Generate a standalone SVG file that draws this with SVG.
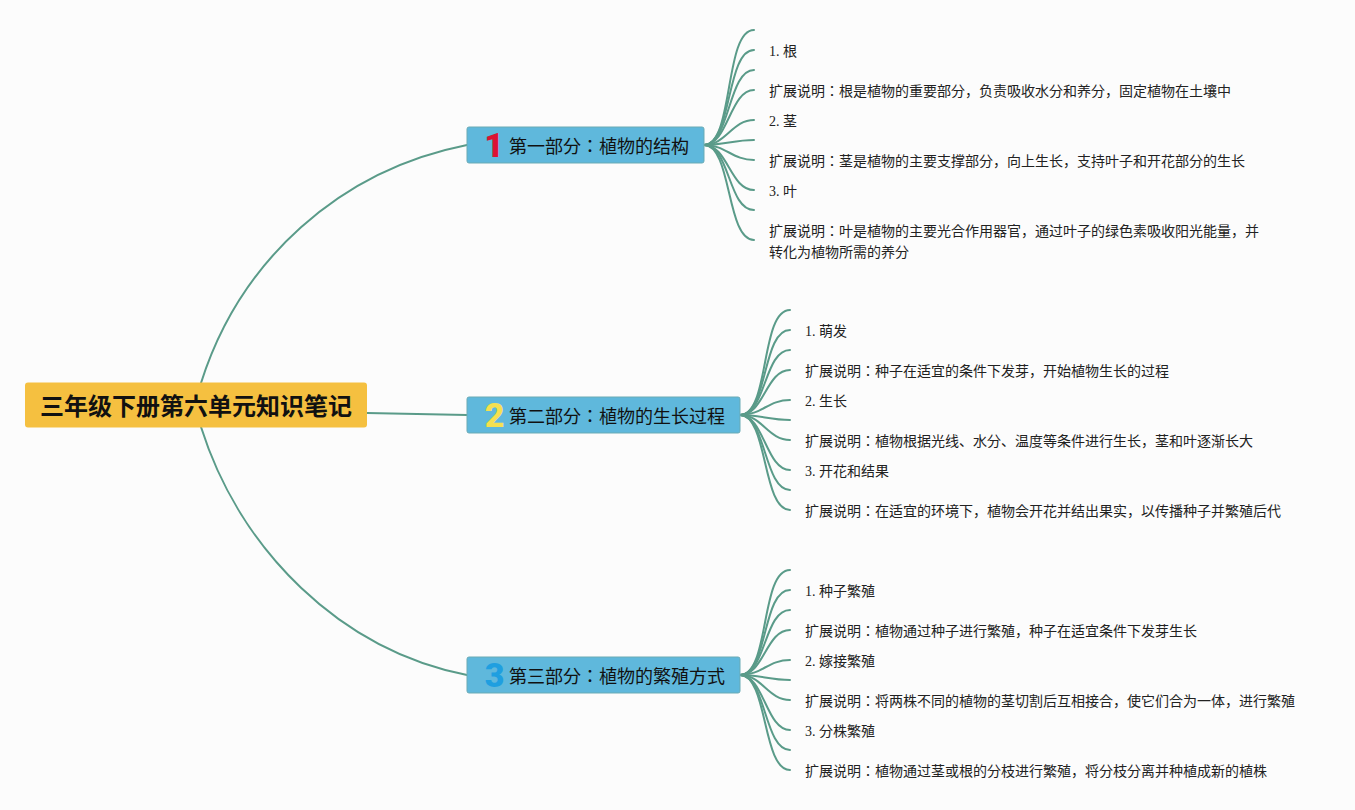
<svg xmlns="http://www.w3.org/2000/svg" width="1355" height="810" viewBox="0 0 1355 810">
<style>
.c{fill:none;stroke:#5a9b89;stroke-width:2;stroke-linecap:round}
.b{fill:#5fb8dc;stroke:#6aabb5;stroke-width:1}
.t{font-family:"Noto Sans CJK JP","Noto Sans CJK SC",sans-serif;font-size:18px;fill:#111}
.l{font-family:"Liberation Serif","Noto Sans CJK JP","Noto Sans CJK SC",serif;font-size:14px;fill:#222}
.n{font-family:"Roboto",sans-serif;font-size:34px;font-weight:900}
</style>
<rect width="1355" height="810" fill="#fcfcfc"/>
<g id="connectors">
<path class="c" d="M201,383C240,260 340,170 467,145"/>
<path class="c" d="M367,413L467,415"/>
<path class="c" d="M201,427C240,550 340,650 467,675"/>
<path class="c" d="M704,145C734,145 724,30 754,30"/>
<path class="c" d="M704,145C732,145 726,50 754,50"/>
<path class="c" d="M704,145C730,145 728,70 754,70"/>
<path class="c" d="M704,145C728,145 730,90 754,90"/>
<path class="c" d="M704,145C726,145 732,120 754,120"/>
<path class="c" d="M704,145C724,145 734,140 754,140"/>
<path class="c" d="M704,145C726,145 732,160 754,160"/>
<path class="c" d="M704,145C728,145 730,190 754,190"/>
<path class="c" d="M704,145C730,145 728,210 754,210"/>
<path class="c" d="M704,145C732,145 726,240 754,240"/>
<path class="c" d="M740,415C770,415 760,310 790,310"/>
<path class="c" d="M740,415C768,415 762,330 790,330"/>
<path class="c" d="M740,415C766,415 764,350 790,350"/>
<path class="c" d="M740,415C764,415 766,370 790,370"/>
<path class="c" d="M740,415C762,415 768,400 790,400"/>
<path class="c" d="M740,415C760,415 770,420 790,420"/>
<path class="c" d="M740,415C762,415 768,440 790,440"/>
<path class="c" d="M740,415C764,415 766,470 790,470"/>
<path class="c" d="M740,415C766,415 764,490 790,490"/>
<path class="c" d="M740,415C768,415 762,510 790,510"/>
<path class="c" d="M740,675C770,675 760,570 790,570"/>
<path class="c" d="M740,675C768,675 762,590 790,590"/>
<path class="c" d="M740,675C766,675 764,610 790,610"/>
<path class="c" d="M740,675C764,675 766,630 790,630"/>
<path class="c" d="M740,675C762,675 768,660 790,660"/>
<path class="c" d="M740,675C760,675 770,680 790,680"/>
<path class="c" d="M740,675C762,675 768,700 790,700"/>
<path class="c" d="M740,675C764,675 766,730 790,730"/>
<path class="c" d="M740,675C766,675 764,750 790,750"/>
<path class="c" d="M740,675C768,675 762,770 790,770"/>
</g>
<g id="root">
<rect x="25" y="382.500" width="342" height="45" rx="3" fill="#f5c040"/>
<text x="196" y="415" text-anchor="middle" font-family="'Noto Sans CJK JP','Noto Sans CJK SC',sans-serif" font-size="24" font-weight="700" fill="#111">三年级下册第六单元知识笔记</text>
</g>
<g id="branch1">
<rect class="b" x="467" y="127" width="237" height="36" rx="2"/>
<text class="n" x="494" y="157" text-anchor="middle" fill="#dc1233">1</text>
<text class="t" x="509" y="152.500">第一部分：植物的结构</text>
</g>
<g id="branch2">
<rect class="b" x="467" y="397" width="273" height="36" rx="2"/>
<text class="n" x="494.500" y="427" text-anchor="middle" fill="#f5e050">2</text>
<text class="t" x="509" y="422.500">第二部分：植物的生长过程</text>
</g>
<g id="branch3">
<rect class="b" x="467" y="657" width="273" height="36" rx="2"/>
<text class="n" x="494.500" y="687" text-anchor="middle" fill="#1f9fe0">3</text>
<text class="t" x="509" y="682.500">第三部分：植物的繁殖方式</text>
</g>
<g id="leaves1">
<text class="l" x="769" y="56">1. 根</text>
<text class="l" x="769" y="96">扩展说明：根是植物的重要部分，负责吸收水分和养分，固定植物在土壤中</text>
<text class="l" x="769" y="126">2. 茎</text>
<text class="l" x="769" y="166">扩展说明：茎是植物的主要支撑部分，向上生长，支持叶子和开花部分的生长</text>
<text class="l" x="769" y="196">3. 叶</text>
<text class="l" x="769" y="236">扩展说明：叶是植物的主要光合作用器官，通过叶子的绿色素吸收阳光能量，并</text>
<text class="l" x="769" y="257">转化为植物所需的养分</text>
</g>
<g id="leaves2">
<text class="l" x="805" y="336">1. 萌发</text>
<text class="l" x="805" y="376">扩展说明：种子在适宜的条件下发芽，开始植物生长的过程</text>
<text class="l" x="805" y="406">2. 生长</text>
<text class="l" x="805" y="446">扩展说明：植物根据光线、水分、温度等条件进行生长，茎和叶逐渐长大</text>
<text class="l" x="805" y="476">3. 开花和结果</text>
<text class="l" x="805" y="516">扩展说明：在适宜的环境下，植物会开花并结出果实，以传播种子并繁殖后代</text>
</g>
<g id="leaves3">
<text class="l" x="805" y="596">1. 种子繁殖</text>
<text class="l" x="805" y="636">扩展说明：植物通过种子进行繁殖，种子在适宜条件下发芽生长</text>
<text class="l" x="805" y="666">2. 嫁接繁殖</text>
<text class="l" x="805" y="706">扩展说明：将两株不同的植物的茎切割后互相接合，使它们合为一体，进行繁殖</text>
<text class="l" x="805" y="736">3. 分株繁殖</text>
<text class="l" x="805" y="776">扩展说明：植物通过茎或根的分枝进行繁殖，将分枝分离并种植成新的植株</text>
</g>
</svg>
